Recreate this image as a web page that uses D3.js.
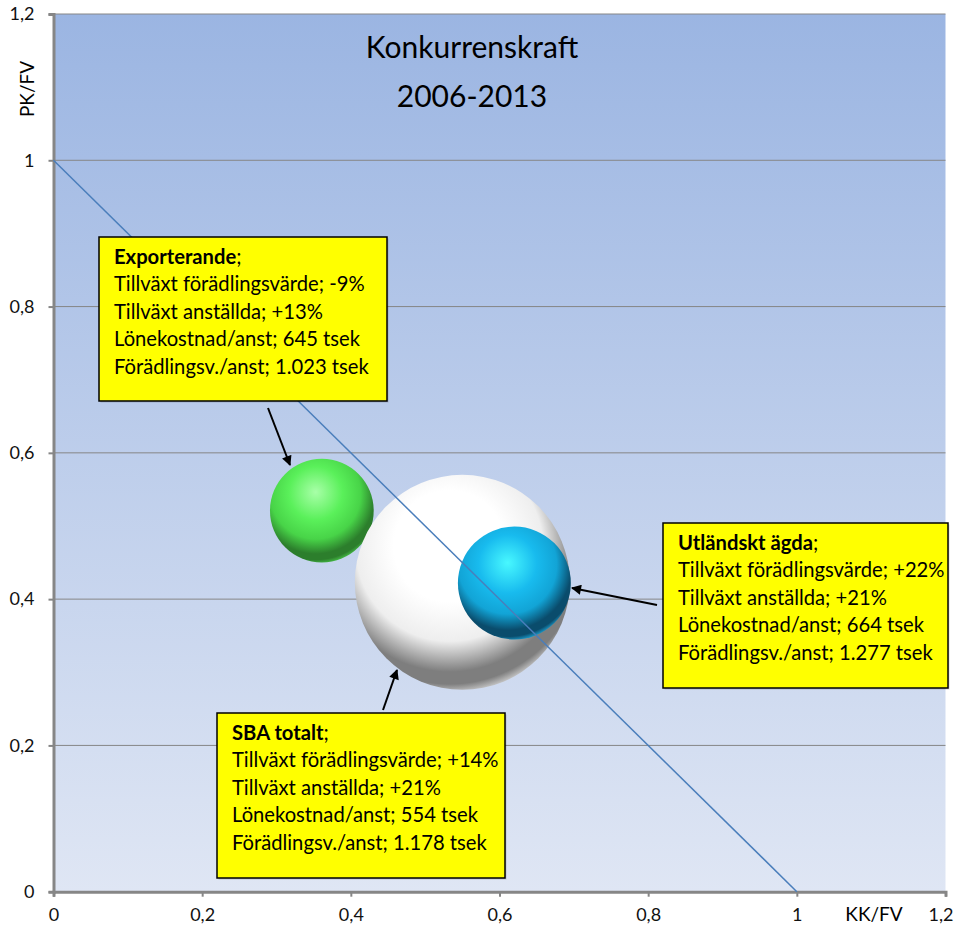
<!DOCTYPE html>
<html>
<head>
<meta charset="utf-8">
<script src="https://cdn.jsdelivr.net/npm/d3@7"></script>
<style>
  body { margin: 0; background: #fff; }
  svg { display: block; font-family: Lato, "Open Sans", sans-serif; }
</style>
</head>
<body>
<svg id="chart" width="957" height="927"></svg>
<script>
// data
var tickValues = [0, 0.2, 0.4, 0.6, 0.8, 1, 1.2];
var tickLabels = ["0", "0,2", "0,4", "0,6", "0,8", "1", "1,2"];
var groups = ["Exporterande", "SBA totalt", "Utländskt ägda"];
var kkfv = [0.361, 0.55, 0.62];
var pkfv = [0.521, 0.423, 0.422];
var bubbleSize = [2.7, 11.6, 3.2];
var infoLines = [
  ["Tillväxt förädlingsvärde; -9%", "Tillväxt anställda; +13%", "Lönekostnad/anst; 645 tsek", "Förädlingsv./anst; 1.023 tsek"],
  ["Tillväxt förädlingsvärde; +14%", "Tillväxt anställda; +21%", "Lönekostnad/anst; 554 tsek", "Förädlingsv./anst; 1.178 tsek"],
  ["Tillväxt förädlingsvärde; +22%", "Tillväxt anställda; +21%", "Lönekostnad/anst; 664 tsek", "Förädlingsv./anst; 1.277 tsek"]
];
// break-even line KK/FV + PK/FV = 1
var lineX = [0, 1];
var lineY = [1, 0];

var svg = d3.select("#chart");
var margin = {top: 14, right: 11.5, bottom: 35.3, left: 53.5},
    width = 957 - margin.left - margin.right,
    height = 927 - margin.top - margin.bottom;

var x = d3.scaleLinear().domain([0, 1.2]).range([0, width]);
var y = d3.scaleLinear().domain([0, 1.2]).range([height, 0]);
var r = d3.scaleSqrt().domain([0, 11.6]).range([0, 107.5]);

var defs = svg.append("defs");
var bg = defs.append("linearGradient").attr("id", "bg")
  .attr("x1", 0).attr("y1", 0).attr("x2", 0).attr("y2", 1);
bg.append("stop").attr("offset", "0%").attr("stop-color", "#9bb5e2");
bg.append("stop").attr("offset", "100%").attr("stop-color", "#dfe6f4");

var sphereColors = [
  {hi: "#a8ffa8", base: "#5af05a", mid: "#48d448", dark: "#2c7e2c", rim: "#4fd44f"},
  {hi: "#ffffff", base: "#ffffff", mid: "#eeeeee", dark: "#7e7e7e", rim: "#e2e2e2"},
  {hi: "#48f8ff", base: "#18bbee", mid: "#12a4d6", dark: "#0a4c6c", rim: "#20b8ee"}
];
sphereColors.forEach(function(c, i) {
  var g = defs.append("radialGradient").attr("id", "sph" + i)
    .attr("cx", "44%").attr("cy", "35%").attr("r", "68%")
    .attr("fx", "44%").attr("fy", "32%");
  g.append("stop").attr("offset", "0%").attr("stop-color", c.hi);
  g.append("stop").attr("offset", "38%").attr("stop-color", c.base);
  g.append("stop").attr("offset", "64%").attr("stop-color", c.mid);
  g.append("stop").attr("offset", "84%").attr("stop-color", c.dark);
  g.append("stop").attr("offset", "92%").attr("stop-color", c.dark);
  g.append("stop").attr("offset", "100%").attr("stop-color", c.rim);
});

defs.append("marker").attr("id", "arrow")
  .attr("viewBox", "0 0 10 10").attr("refX", 9).attr("refY", 5)
  .attr("markerWidth", 5.5).attr("markerHeight", 5).attr("orient", "auto")
  .append("path").attr("d", "M0,0 L10,5 L0,10 z").attr("fill", "#000");

var g = svg.append("g").attr("transform", "translate(" + margin.left + "," + margin.top + ")");

g.append("rect").attr("width", width).attr("height", height).attr("fill", "url(#bg)");

// gridlines
g.selectAll("line.grid").data(tickValues.slice(1)).enter()
  .append("line").attr("class", "grid")
  .attr("x1", 0).attr("x2", width)
  .attr("y1", function(d) { return y(d); }).attr("y2", function(d) { return y(d); })
  .attr("stroke", "#868686").attr("stroke-width", 1);

// axes
var yAxis = g.append("g")
  .call(d3.axisLeft(y).tickValues(tickValues).tickFormat(function(d, i) { return tickLabels[i]; }).tickSize(5).tickPadding(14));
var xAxis = g.append("g").attr("transform", "translate(0," + height + ")")
  .call(d3.axisBottom(x).tickValues(tickValues).tickFormat(function(d, i) { return tickLabels[i]; }).tickSize(5).tickPadding(12));
[yAxis, xAxis].forEach(function(a) {
  a.select(".domain").attr("stroke", "#868686").attr("stroke-width", 3);
  a.selectAll(".tick line").attr("stroke", "#868686").attr("stroke-width", 2);
  a.selectAll(".tick text").attr("font-size", 18).attr("fill", "#111").attr("font-family", "Lato, sans-serif");
});
xAxis.selectAll(".tick text").filter(function(d) { return d === 1.2; }).attr("dx", -5);

// bubbles
g.selectAll("circle.bubble").data(groups).enter()
  .append("circle").attr("class", "bubble")
  .attr("cx", function(d, i) { return x(kkfv[i]); })
  .attr("cy", function(d, i) { return y(pkfv[i]); })
  .attr("r", function(d, i) { return r(bubbleSize[i]); })
  .attr("fill", function(d, i) { return "url(#sph" + i + ")"; });

// diagonal
g.append("path")
  .datum(lineX.map(function(v, i) { return [v, lineY[i]]; }))
  .attr("d", d3.line().x(function(d) { return x(d[0]); }).y(function(d) { return y(d[1]); }))
  .attr("stroke", "#4a7ebb").attr("stroke-width", 1.5).attr("fill", "none");

// title
var title = svg.append("text").attr("x", 472).attr("y", 58)
  .attr("text-anchor", "middle").attr("font-size", 30).attr("fill", "#000");
title.append("tspan").attr("x", 472).text("Konkurrenskraft");
title.append("tspan").attr("x", 472).attr("dy", 49).text("2006-2013");

// axis titles
svg.append("text").attr("transform", "translate(34,89) rotate(-90)")
  .attr("text-anchor", "middle").attr("font-size", 19).text("PK/FV");
svg.append("text").attr("x", 874).attr("y", 921)
  .attr("text-anchor", "middle").attr("font-size", 19).text("KK/FV");

// callouts (positions in pixels of the page)
var boxes = [
  {x: 99, y: 237, w: 288, h: 164, ax1: 268, ay1: 408, ax2: 290, ay2: 465},
  {x: 217, y: 713, w: 288, h: 165, ax1: 383, ay1: 710, ax2: 397, ay2: 670},
  {x: 663, y: 523, w: 285, h: 165, ax1: 657, ay1: 605, ax2: 572, ay2: 588}
];
boxes.forEach(function(b, i) {
  svg.append("line").attr("x1", b.ax1).attr("y1", b.ay1).attr("x2", b.ax2).attr("y2", b.ay2)
    .attr("stroke", "#000").attr("stroke-width", 2).attr("marker-end", "url(#arrow)");
  svg.append("rect").attr("x", b.x + 1.5).attr("y", b.y + 1.5).attr("width", b.w).attr("height", b.h)
    .attr("fill", "rgba(0,0,0,0.15)");
  svg.append("rect").attr("x", b.x).attr("y", b.y).attr("width", b.w).attr("height", b.h)
    .attr("fill", "#ffff00").attr("stroke", "#000").attr("stroke-width", 1.5);
  var t = svg.append("text").attr("x", b.x + 15).attr("y", b.y + 27)
    .attr("font-size", 20.2).attr("fill", "#000");
  var head = t.append("tspan").attr("x", b.x + 15);
  head.append("tspan").attr("font-weight", "bold").text(groups[i]);
  head.append("tspan").text(";");
  infoLines[i].forEach(function(line) {
    t.append("tspan").attr("x", b.x + 15).attr("dy", 27.4).text(line);
  });
});
</script>
</body>
</html>
